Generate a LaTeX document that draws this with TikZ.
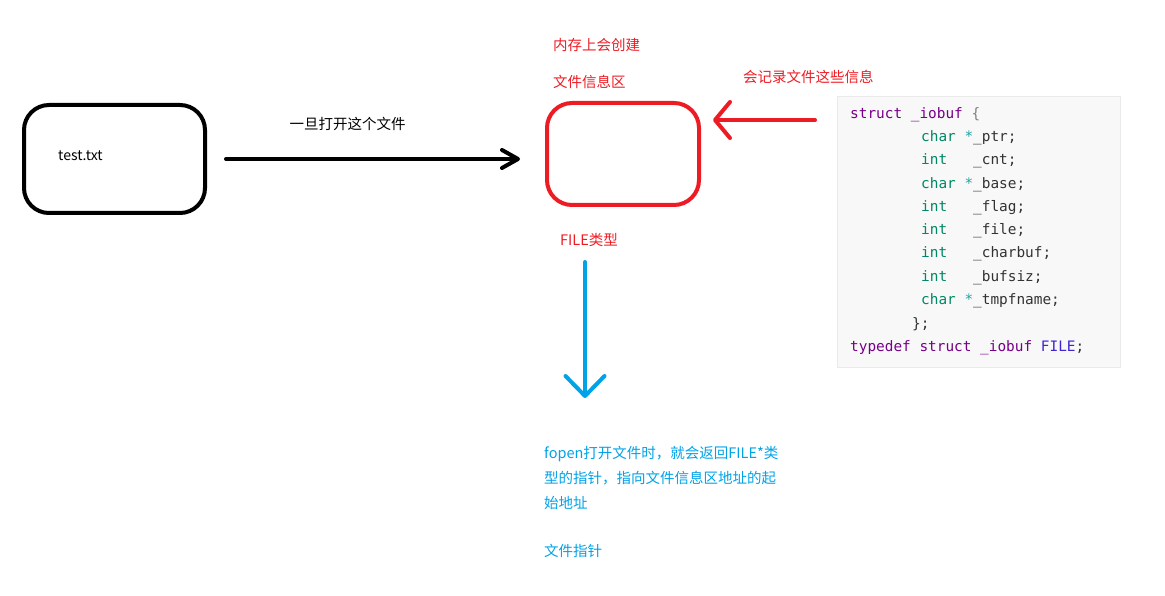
\documentclass[tikz,border=0pt]{standalone}
\usepackage{fontspec}
\setmainfont{Noto Sans CJK SC}
\setmonofont{DejaVu Sans Mono}
\usetikzlibrary{arrows.meta}
\definecolor{markred}{HTML}{ED1C24}
\definecolor{markblue}{HTML}{00A2E8}
\definecolor{codebg}{HTML}{F8F8F8}
\definecolor{codeline}{HTML}{EAEAEA}
\definecolor{kwpurple}{HTML}{770088}
\definecolor{typegreen}{HTML}{008866}
\definecolor{startteal}{HTML}{22A2A2}
\definecolor{fileblue}{HTML}{3F24D0}
\definecolor{idgrey}{HTML}{333333}
\newcommand{\kw}[1]{\textcolor{kwpurple}{#1}}
\newcommand{\ty}[1]{\textcolor{typegreen}{#1}}
\newcommand{\st}{\textcolor{startteal}{*}}

\begin{document}
\begin{tikzpicture}[x=1pt, y=-1pt,
  framebox/.style={line width=4pt, rounded corners=25pt},
  lbl/.style={font=\fontsize{14.5}{17}\selectfont, inner sep=0pt, anchor=west},
  codetxt/.style={font=\ttfamily\fontsize{14.4}{17}\selectfont, text=idgrey,
                  inner sep=0pt, anchor=base west},
  arr/.style={line width=4pt, line cap=round}
]
  \useasboundingbox (0,0) rectangle (1165,596);

  % file on disk
  \node[framebox, draw=black, minimum width=181pt, minimum height=108pt] (disk) at (114.5,159) {};
  \node[lbl, font=\fontsize{14}{17}\selectfont] (name) at (58,156) {test.txt};
  \node[lbl, anchor=center] (open) at (347.5,124) {一旦打开这个文件};

  % file info area
  \node[framebox, draw=markred, minimum width=152pt, minimum height=102pt] (info) at (623,154) {};
  \node[lbl, text=markred] (mem) at (553,45) {内存上会创建};
  \node[lbl, text=markred] (area) at (553,82) {文件信息区};
  \node[lbl, text=markred] (type) at (560,240) {FILE类型};
  \node[lbl, text=markred] (rec) at (743,77) {会记录文件这些信息};

  % struct listing
  \node[draw=codeline, fill=codebg, minimum width=283pt, minimum height=271pt] (code) at (978.5,231.5) {};
  \node[codetxt] (l1) at (850,119) {\kw{struct \_iobuf} \textcolor{gray}{\{}};
  \node[codetxt] (l2) at (921,142) {\ty{char} \st\_ptr;};
  \node[codetxt] (l3) at (921,165) {\ty{int}\ \ \ \_cnt;};
  \node[codetxt] (l4) at (921,189) {\ty{char} \st\_base;};
  \node[codetxt] (l5) at (921,212) {\ty{int}\ \ \ \_flag;};
  \node[codetxt] (l6) at (921,235) {\ty{int}\ \ \ \_file;};
  \node[codetxt] (l7) at (921,258) {\ty{int}\ \ \ \_charbuf;};
  \node[codetxt] (l8) at (921,282) {\ty{int}\ \ \ \_bufsiz;};
  \node[codetxt] (l9) at (921,305) {\ty{char} \st\_tmpfname;};
  \node[codetxt] (l10) at (912,328) {\};};
  \node[codetxt] (l11) at (850,351) {\kw{typedef struct \_iobuf} \textcolor{fileblue}{FILE};};

  % pointer note
  \node[lbl, text=markblue] (p1) at (544,454) {fopen打开文件时，就会返回FILE*类};
  \node[lbl, text=markblue] (p2) at (544,478) {型的指针，指向文件信息区地址的起};
  \node[lbl, text=markblue] (p3) at (544,503) {始地址};
  \node[lbl, text=markblue] (p4) at (544,551) {文件指针};

  % connectors
  \coordinate (recfrom) at (815,120);
  \coordinate (recto) at (713,120);
  \coordinate (ptrfrom) at (585,262);
  \coordinate (ptrto) at (585,398);
  \draw[arr, -{Straight Barb[length=16pt, width=18pt, round]}]
    ([xshift=19pt]disk.east) -- ([xshift=-25pt]disk.east -| info.west);
  \draw[arr, draw=markred, -{Straight Barb[length=15pt, width=36pt, round]}] (recfrom) -- (recto);
  \draw[arr, draw=markblue, -{Straight Barb[length=20pt, width=39pt, round]}] (ptrfrom) -- (ptrto);
\end{tikzpicture}
\end{document}
